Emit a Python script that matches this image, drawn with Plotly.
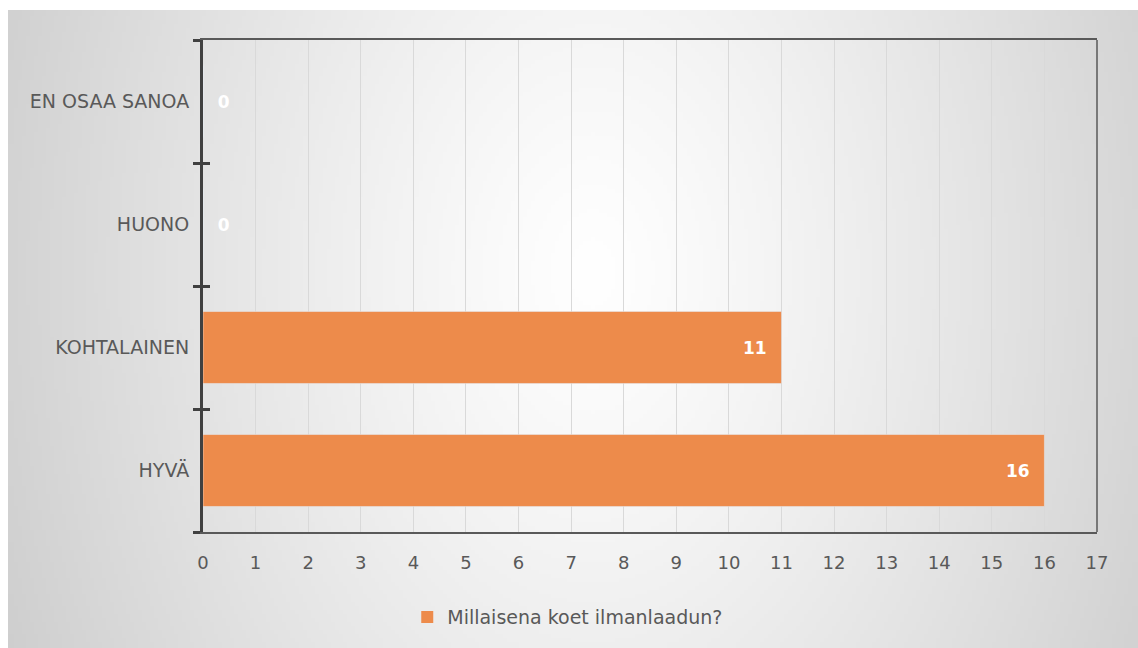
import base64
import struct
import zlib

import numpy as np
import plotly.graph_objects as go

# ---- data ----
categories = ["HYVÄ", "KOHTALAINEN", "HUONO", "EN OSAA SANOA"]
values = [16, 11, 0, 0]
series_name = "Millaisena koet ilmanlaadun?"
x_ticks = list(range(0, 18))

# ---- page geometry ----
W, H = 1138, 648
L, R, T, B = 203, 41, 40, 116
PW, PH = W - L - R, H - T - B


# ---- radial gradient background (chart area) ----
def make_png(arr):
    h, w = arr.shape
    raw = b"".join(b"\x00" + arr[i].tobytes() for i in range(h))

    def chunk(tag, data):
        c = struct.pack(">I", len(data)) + tag + data
        return c + struct.pack(">I", zlib.crc32(tag + data) & 0xFFFFFFFF)

    return (b"\x89PNG\r\n\x1a\n"
            + chunk(b"IHDR", struct.pack(">IIBBBBB", w, h, 8, 0, 0, 0, 0))
            + chunk(b"IDAT", zlib.compress(raw, 9))
            + chunk(b"IEND", b""))


gx0, gy0 = 8, 10
gw, gh = W - gx0, H - gy0
sc = 4
xs = (np.arange(gw // sc) * sc + gx0)[None, :]
ys = (np.arange(gh // sc) * sc + gy0)[:, None]
cx, cy, rx, ry = 590, 270, 720, 1050
t = np.sqrt(((xs - cx) / rx) ** 2 + ((ys - cy) / ry) ** 2)
t = np.clip(t, 0, 1)
img = (255 - 56 * t ** 1.2).astype(np.uint8)
src = "data:image/png;base64," + base64.b64encode(make_png(img)).decode()

font_family = "DejaVu Sans, Verdana, sans-serif"
text_color = "#595959"

nb = "\u00a0"
labels = [(str(v) + nb * 2) if v > 0 else (nb * 2 + str(v)) for v in values]
textpos = ["inside" if v > 0 else "outside" for v in values]

fig = go.Figure()
fig.add_trace(go.Bar(
    y=categories, x=values, orientation="h", name=series_name,
    marker=dict(color="#ED8B4B", line=dict(width=0)),
    text=labels, textposition=textpos,
    insidetextanchor="end",
    textfont=dict(color="white", size=17, family=font_family, weight="bold"),
    cliponaxis=False,
))
# invisible companion trace for inner tick marks on the category axis
fig.add_trace(go.Bar(
    y=categories, x=values, orientation="h", yaxis="y2",
    marker=dict(color="rgba(0,0,0,0)"), showlegend=False, hoverinfo="skip",
))

fig.update_layout(
    width=W, height=H,
    margin=dict(l=L, r=R, t=T, b=B),
    paper_bgcolor="white",
    plot_bgcolor="rgba(0,0,0,0)",
    bargap=0.415,
    font=dict(family=font_family, size=18, color=text_color),
    showlegend=True,
    legend=dict(orientation="h", x=0.408, xanchor="center", y=-0.173,
                yanchor="middle", bgcolor="rgba(0,0,0,0)",
                font=dict(size=19, color=text_color)),
    xaxis=dict(range=[0, 17], tickvals=x_ticks, ticktext=[str(v) for v in x_ticks],
               showgrid=True, gridcolor="#d9d9d9", gridwidth=1,
               showline=True, linecolor="#595959", linewidth=1.5, mirror=True,
               zeroline=False, ticks="", ticklabelstandoff=14,
               tickfont=dict(size=18, color=text_color)),
    yaxis=dict(type="category", categoryorder="array", categoryarray=categories,
               tickson="boundaries", ticks="outside", ticklen=7, tickwidth=3,
               tickcolor="#404040", showline=True, linecolor="#404040",
               linewidth=3, showgrid=False, ticklabelstandoff=7,
               tickfont=dict(size=19, color=text_color)),
    yaxis2=dict(type="category", categoryorder="array", categoryarray=categories,
                overlaying="y", side="left", tickson="boundaries", ticks="inside",
                ticklen=7, tickwidth=3, tickcolor="#404040", showticklabels=False,
                showline=False, showgrid=False, matches="y"),
    shapes=[dict(type="line", xref="paper", yref="paper", x0=1, x1=1, y0=0, y1=1,
                 line=dict(color="#595959", width=1.5))],
    images=[dict(source=src, xref="paper", yref="paper",
                 x=(gx0 - L) / PW, y=(H - B - gy0) / PH,
                 sizex=gw / PW, sizey=gh / PH,
                 xanchor="left", yanchor="top", sizing="stretch",
                 layer="below")],
)

fig.write_html("out.html")
